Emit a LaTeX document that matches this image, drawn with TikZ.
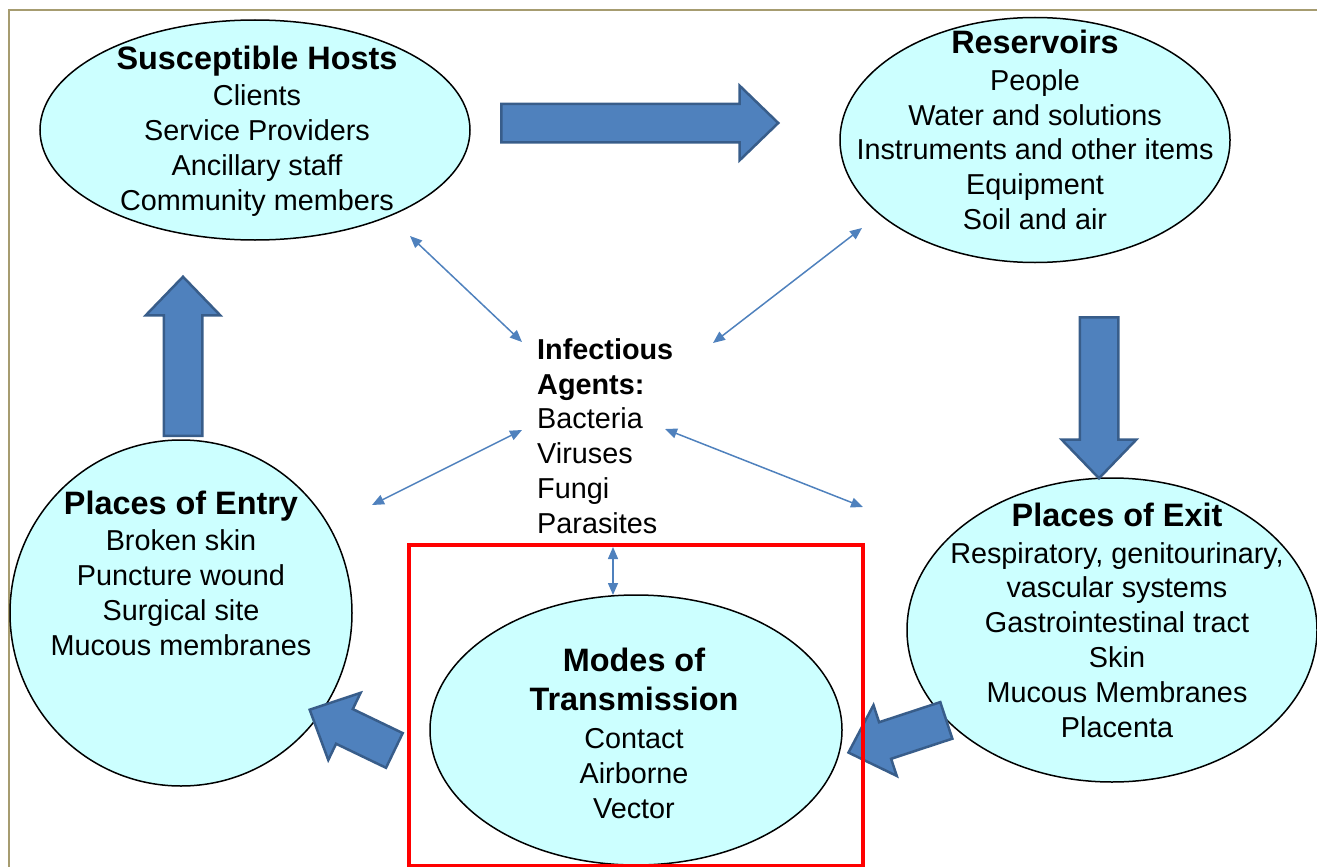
\documentclass[tikz,border=0pt]{standalone}
\usepackage{fontspec}
\setmainfont{Liberation Sans}
\usetikzlibrary{shapes.geometric,shapes.arrows,arrows.meta}

\definecolor{cellfill}{RGB}{204,255,255}
\definecolor{flowblue}{RGB}{79,129,189}
\definecolor{flowedge}{RGB}{56,93,138}
\definecolor{slideframe}{RGB}{166,156,112}

\newcommand\celltitle[1]{{\fontsize{32.4}{38}\selectfont\bfseries #1}}

\tikzset{
  cell/.style={draw,ellipse,line width=1.5pt,fill=cellfill,inner sep=0pt},
  celltext/.style={align=center,inner sep=0pt},
  flow/.style={draw=flowedge,line width=2.5pt,fill=flowblue,single arrow,
    inner xsep=0pt,inner ysep=18pt,single arrow head extend=18pt,
    single arrow tip angle=88,anchor=tail,shape border uses incircle=false},
  link/.style={flowblue,line width=1.5pt,
    {Triangle[length=12pt,width=10pt]}-{Triangle[length=12pt,width=10pt]}}
}

\begin{document}
\begin{tikzpicture}[x=1pt,y=-1pt,font=\fontsize{28.8}{34.8}\selectfont]
\useasboundingbox (0,0) rectangle (1317,867);
\draw [slideframe,line width=2pt] (9,867) -- (9,10) -- (1317,10);

% the five stages
\node [cell,minimum width=430pt,minimum height=220pt] (hosts)      at ( 255,130) {};
\node [cell,minimum width=390pt,minimum height=245pt] (reservoirs) at (1035,140) {};
\node [cell,minimum width=410pt,minimum height=304pt] (exit)       at (1112,630) {};
\node [cell,minimum width=342pt,minimum height=346pt] (entry)      at ( 181,613) {};
\node [cell,minimum width=412pt,minimum height=270pt] (modes)      at ( 636,730) {};

\node [celltext] (hoststext)      at ( 257,131) {\celltitle{Susceptible Hosts}\\[2pt]
  Clients\\ Service Providers\\ Ancillary staff\\ Community members};
\node [celltext] (reservoirstext) at (1035,130) {\celltitle{Reservoirs}\\[2pt]
  People\\ Water and solutions\\ Instruments and other items\\ Equipment\\ Soil and air};
\node [celltext] (exittext)       at (1117,620) {\celltitle{Places of Exit}\\[2pt]
  Respiratory, genitourinary,\\ vascular systems\\ Gastrointestinal tract\\ Skin\\
  Mucous Membranes\\ Placenta};
\node [celltext] (entrytext)      at ( 181,573) {\celltitle{Places of Entry}\\[2pt]
  Broken skin\\ Puncture wound\\ Surgical site\\ Mucous membranes};
\node [celltext] (modestext)      at ( 634,733) {\celltitle{Modes of}\\[5pt]
  \celltitle{Transmission}\\[3pt] Contact\\ Airborne\\ Vector};
\node [align=left,inner sep=0pt,anchor=west] (agents) at (537,436)
  {\textbf{Infectious}\\ \textbf{Agents:}\\ Bacteria\\ Viruses\\ Fungi\\ Parasites};

% block arrows of the chain
\node [flow,minimum height=277pt,rotate=0]      (toreservoirs) at ( 500,123) {};
\node [flow,minimum height=161pt,rotate=-90]    (toexit)       at (1099,316) {};
\node [flow,minimum height=103pt,rotate=198.2]  (tomodes)      at (947.5,720) {};
\node [flow,minimum height=94pt,rotate=154.3]   (toentry)      at (395.5,751) {};
\node [flow,minimum height=159pt,rotate=90]     (tohosts)      at ( 183,437) {};

% links to the agents
\coordinate (hostsend)      at (410,236);
\coordinate (agentsnw)      at (522,342);
\coordinate (reservoirsend) at (862,228);
\coordinate (agentsne)      at (713,343);
\coordinate (entryend)      at (372,505);
\coordinate (agentsw)       at (522,430);
\coordinate (exitend)       at (863,507);
\coordinate (agentse)       at (665,429);
\coordinate (agentss)       at (613,547);
\coordinate (modesend)      at (613,595);
\draw [link] (hostsend) -- (agentsnw);
\draw [link] (reservoirsend) -- (agentsne);
\draw [link] (entryend) -- (agentsw);
\draw [link] (exitend) -- (agentse);
\draw [link] (agentss) -- (modesend);

\draw [red,line width=3.5pt] (409,545) rectangle (863,866);
\end{tikzpicture}
\end{document}
